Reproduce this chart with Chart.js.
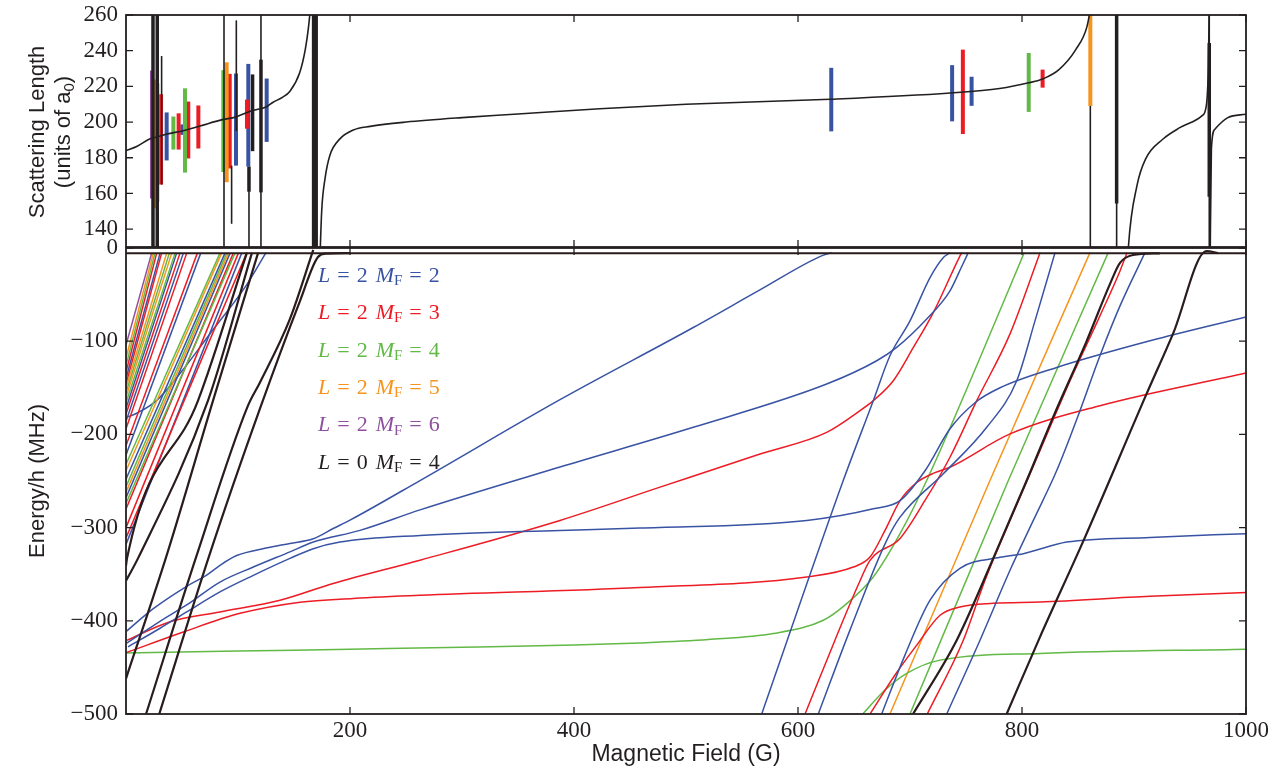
<!DOCTYPE html>
<html lang="en">
<head>
    <meta charset="UTF-8">
    <title>Scattering length and bound states</title>
    <style>
        body {
            margin: 0;
            background-color: #ffffff;
        }
        .panel {
            position: absolute;
            left: 0;
            top: 0;
        }
    </style>
</head>
<body>
    <canvas id="energyChart" class="panel" width="1279" height="772"></canvas>
    <canvas id="lengthChart" class="panel" width="1279" height="772"></canvas>

    <script src="https://cdn.jsdelivr.net/npm/chart.js"></script>

    <script>
        // ---- axis ticks ----
        const fieldTicks = [200, 400, 600, 800, 1000];
        const lengthTicks = [140, 160, 180, 200, 220, 240, 260];
        const energyTicks = [-500, -400, -300, -200, -100, 0];

        // ---- scattering length (a0) vs field (G), one array per branch between poles ----
        const lengthLowField = [[0, 184], [10, 186.5], [21, 190.5], [30, 192], [36.6, 193.3], [50, 195], [66, 197.8], [87, 201.5], [96, 202.5], [113, 206.5], [125, 208.5], [131, 211], [140, 214], [146, 217], [155, 227.5], [160, 240.5], [163, 253.5], [165, 266]];
        const lengthMidField = [[172.5, 110], [174.7, 149.8], [177.7, 168.3], [182, 181.3], [191, 190.6], [203, 195.6], [218, 197.6], [250, 200], [300, 202.5], [350, 204.5], [423, 207.5], [500, 210], [629, 212.8], [736, 216.3], [780, 218.8], [806, 222], [819, 224.3], [833, 229.4], [848, 240.6], [858, 253.5], [863, 270]];
        const lengthHighField = [[893.5, 110], [895, 130], [902.7, 164.5], [910.4, 179.4], [925.9, 190.5], [941.3, 197], [960.6, 203.5], [964.5, 209], [966.4, 231], [967.2, 266]];
        const lengthTopField = [[967.8, 110], [969.1, 185], [972.2, 196], [983.8, 202.5], [1000, 204.4]];

        // ---- resonance markers: [field (G), low a0, high a0] ----
        const markPurple = [[23.2, 157.2, 228.9]];
        const markOrange = [[25.3, 151.7, 223.9], [89.9, 166.3, 233.5], [861, 209, 260]];
        const markGreen = [[28, 155.4, 221.7], [42.3, 184.6, 203.1], [52.7, 171.7, 218.9], [86.9, 172, 229.1], [806, 205.7, 238.7]];
        const markRed = [[31.3, 165, 215.6], [47, 184.6, 204.9], [55.6, 179.6, 211.5], [64.6, 185.2, 209.3], [92.6, 174, 227], [108, 196.3, 212.6], [747.2, 193.3, 240.6], [818.4, 219.3, 229.4]];
        const markBlue = [[36.3, 178.5, 205.4], [50.3, 192.8, 198.7], [98.2, 175.6, 227.2], [109.2, 175, 232.6], [125.6, 188.9, 224.4], [629.7, 194.8, 230.4], [737.6, 200.4, 231.9], [755, 209.1, 225.4]];
        const markBlackWide = [[24.1, 130, 260], [27.9, 130, 260], [109.8, 161, 175], [113, 183.7, 226.7], [120.5, 160.6, 235], [167.5, 130, 260], [169.8, 130, 260], [884.5, 154.4, 260], [967.2, 158.2, 244.3]];
        const markBlackThin = [[31.8, 165, 237], [87.5, 130, 260], [94.3, 143, 175.6], [98.5, 195, 257], [109.8, 130, 175], [120.5, 130, 260], [861, 130, 209], [884.5, 130, 260], [967.2, 130, 260]];

        // ---- bound state energies (MHz) vs field (G) ----
        const thresholdEnergy = -5.5;

        // steep low-field levels: [energy at 0 G, field where the level meets threshold]
        const fanPurple = [[-104, 22.9]];
        const fanOrange = [[-118, 24.4], [-150, 36.3], [-160, 40.8], [-239, 85.4], [-262, 91.4]];
        const fanGreen = [[-126, 25.9], [-155, 38.7], [-166, 43.8], [-232, 83.9], [-256, 89.9], [-274, 97.3]];
        const fanRed = [[-133, 27.4], [-146, 31.8], [-178, 48.2], [-194, 54.2], [-212, 63.7], [-280, 95.8], [-300, 100.3], [-311, 107.7]];
        const fanBlue = [[-140, 30.4], [-172, 45.2], [-186, 51.2], [-222, 66.7], [-248, 88.4], [-268, 92.9], [-318, 103.3]];

        const blueBend = [[0, -182], [10, -177], [27, -164], [48, -135], [75, -92], [108, -39], [125, -5]];
        const blueDiagonal = [[0.6, -411], [24.4, -387], [54.2, -363], [72, -351], [83.9, -340.5], [98.8, -330], [125, -322], [146.4, -317], [167.2, -312], [185, -301], [200, -292], [262.5, -249.5], [387.5, -162.7], [506.5, -85.3], [566, -45], [620, -9], [630, -5]];
        const blueMiddle = [[0.6, -424], [36.3, -396], [54.2, -383], [83.9, -358.4], [113.7, -342.3], [146.4, -326], [167.2, -315.5], [208.9, -303], [262.5, -281], [387.5, -235], [506.5, -192.4], [625.6, -146], [670.3, -121], [688.1, -106.7], [714.9, -76.3], [735.7, -46], [746.4, -19.3], [752, -5]];
        const blueFlat = [[1.8, -428], [30.4, -408], [54.2, -390.5], [83.9, -369], [113.7, -351.2], [146.4, -333], [167.2, -322.6], [191.1, -315.5], [262.5, -308.4], [387.5, -303], [458.9, -300.5], [607.8, -292.3], [667.2, -279.8], [691.1, -271], [713.4, -239], [735.7, -194], [758, -166], [780.4, -150], [831, -128.2], [914.3, -99.6], [1000, -74]];
        const blueSteepA = [[567.6, -500], [640.4, -249.5], [667.2, -163.8], [682.1, -115.6], [700, -78.2], [717.9, -31.8], [730, -10], [735.7, -5]];
        const blueSteepB = [[618.1, -500], [646.4, -410], [679.2, -313.7], [691.1, -288.8], [729.7, -242.3], [768.5, -192.4], [795.3, -142.4], [811.6, -78.2], [829.5, -5]];
        const blueSteepC = [[674.7, -500], [695.5, -436.8], [717.9, -377.9], [744.6, -343.7], [780.4, -331.9], [801.2, -328], [839.9, -315.5], [914.3, -310.5], [1000, -306.5]];
        const blueSteepD = [[732.8, -500], [762.5, -420.8], [789.3, -345.8], [810.1, -292.3], [831, -238.8], [851.8, -174.5], [869.6, -115.6], [887.5, -62.1], [909.8, -5]];

        const redUpper = [[0.6, -421], [39.3, -401], [83.9, -390.5], [137.5, -378], [185, -360], [262.5, -335], [387.5, -292.3], [476.8, -256.6], [566.1, -221], [625.6, -197.8], [655.4, -174.5], [667.2, -163.8], [685.1, -142.4], [703, -106.7], [720.8, -69.3], [744, -10], [746.2, -5]];
        const redLower = [[0.6, -434], [51.2, -412], [101.8, -392], [155.4, -380], [203, -376], [262.5, -372.6], [458.9, -364.3], [607.8, -353], [649.4, -342.3], [664.3, -331.6], [677.7, -303], [691.1, -271], [706, -251.6], [722.3, -241], [735.7, -235.2], [789.3, -199.5], [869.6, -169.2], [1000, -134.2]];
        const redSteepA = [[606.3, -500], [633, -420.8], [653.6, -361.9], [664.3, -335.1], [691.1, -311.6], [713.4, -270.9], [735.7, -224.5], [759.6, -163.8], [789.3, -92.1], [816.1, -5]];
        const redSteepB = [[664.3, -500], [686.6, -458.2], [706, -426.1], [726.8, -394], [744.6, -385.1], [774.4, -381.2], [816.1, -379.8], [914.3, -373.7], [1000, -369.7]];
        const redSteepC = [[715.4, -500], [747.6, -420.8], [767, -356.5], [789.3, -292.3], [816.1, -217.3], [842.9, -142.4], [869.6, -72.8], [887.5, -24.6], [893.8, -5]];

        const greenFlat = [[0, -434.5], [100, -432.5], [200, -430.5], [300, -428.5], [400, -426], [458.9, -423.7], [520, -420], [577.9, -413.6], [622.6, -399.4], [643.5, -381.5], [667.2, -353], [691.1, -306.5], [714.9, -249.5], [760, -125], [802, -5]];
        const greenSteepA = [[657.8, -500], [677.7, -474.3], [697.1, -456.4], [726.8, -442.2], [816.1, -435], [1000, -430.4]];
        const greenSteepB = [[700, -500], [787.8, -249.5], [877, -5]];

        const orangeSteep = [[682.1, -500], [771.4, -249.5], [860.7, -5]];

        const blackLevels = [
            [[0, -341], [0.9, -333], [64.3, -163.8], [108, -5]],
            [[0, -357], [10.7, -333], [73.2, -163.8], [112.5, -5]],
            [[0, -462], [36.3, -329.8], [77.7, -163.8], [118, -5]],
            [[17.9, -500], [63.1, -329.8], [108.9, -169.2], [119.6, -144.2], [146.4, -76], [167.2, -2]],
            [[29.7, -500], [74.4, -329.8], [119.6, -172.4], [155.4, -56.7], [171.4, -9.6], [178.6, -6], [200, -5.5]],
            [[702.7, -500], [741.7, -420.8], [777.4, -324.4], [804.2, -249.5], [827.7, -181.7], [857.8, -99.6], [878.6, -38.5], [887.5, -16], [899.1, -7.5], [923, -5.7]],
            [[786.3, -500], [816.1, -417.2], [856.3, -310.2], [911.3, -156.3], [934.8, -92.1], [964.9, -3.2], [975, -5.5]]
        ];

        // ---- legend labels ----
        const legendL = [2, 2, 2, 2, 2, 0];
        const legendMF = [2, 3, 4, 5, 6, 4];

        // ---- styling ----
        const ink = '#231f20';
        const colors = {
            blue: '#3953a4',
            red: '#ed1c24',
            green: '#62b946',
            orange: '#f7941d',
            purple: '#8e4f9e',
            black: '#2a1c1d'
        };
        const legendColors = [colors.blue, colors.red, colors.green, colors.orange, colors.purple, ink];
        const serif = 'Liberation Serif';
        const sans = 'Liberation Sans';

        function curveSet(points, color, width, order) {
            return {
                data: points.map(([b, v]) => ({ x: b, y: v })),
                borderColor: color,
                borderWidth: width,
                pointRadius: 0,
                cubicInterpolationMode: 'monotone',
                clip: 0,
                order: order
            };
        }

        function straightSet(points, color, width, order) {
            return {
                data: points.map(([b, v]) => ({ x: b, y: v })),
                borderColor: color,
                borderWidth: width,
                borderCapStyle: 'butt',
                pointRadius: 0,
                tension: 0,
                clip: 0,
                order: order
            };
        }

        function markSets(marks, color, width, order) {
            return marks.map(([b, lo, hi]) => straightSet([[b, lo], [b, hi]], color, width, order));
        }

        function fanSets(fan, color) {
            return fan.map(([e0, bTop]) => straightSet([[0, e0], [bTop, thresholdEnergy]], color, 1.5, 2));
        }

        // keep tick labels from pushing the plot area around
        function fixWidth(scale) {
            scale.width = 126;
            scale.paddingTop = 0;
            scale.paddingBottom = 0;
        }

        function fixHeight(h) {
            return scale => {
                scale.height = h;
                scale.paddingLeft = 0;
                scale.paddingRight = 0;
            };
        }

        // frame with inward ticks on all four sides
        const framePlugin = {
            id: 'frame',
            afterDraw(chart) {
                const { ctx, chartArea: a, scales } = chart;
                ctx.save();
                ctx.strokeStyle = ink;
                ctx.lineWidth = 1.3;
                ctx.beginPath();
                scales.x.ticks.forEach(t => {
                    const px = scales.x.getPixelForValue(t.value);
                    ctx.moveTo(px, a.top);
                    ctx.lineTo(px, a.top + 7);
                    ctx.moveTo(px, a.bottom);
                    ctx.lineTo(px, a.bottom - 7);
                });
                scales.y.ticks.forEach(t => {
                    const py = scales.y.getPixelForValue(t.value);
                    ctx.moveTo(a.left, py);
                    ctx.lineTo(a.left + 7, py);
                    ctx.moveTo(a.right, py);
                    ctx.lineTo(a.right - 7, py);
                });
                ctx.stroke();
                ctx.lineWidth = 1.8;
                ctx.strokeRect(a.left, a.top, a.right - a.left, a.bottom - a.top);
                ctx.restore();
            }
        };

        function rotatedText(ctx, parts, cx, cy) {
            // parts: [text, font, offset below the baseline]
            ctx.save();
            ctx.translate(cx, cy);
            ctx.rotate(-Math.PI / 2);
            let total = 0;
            parts.forEach(p => { ctx.font = p[1]; total += ctx.measureText(p[0]).width; });
            let x = -total / 2;
            parts.forEach(p => {
                ctx.font = p[1];
                ctx.fillText(p[0], x, p[2]);
                x += ctx.measureText(p[0]).width;
            });
            ctx.restore();
        }

        const lengthTitlePlugin = {
            id: 'lengthTitle',
            afterDraw(chart) {
                const ctx = chart.ctx;
                ctx.save();
                ctx.fillStyle = ink;
                ctx.textBaseline = 'middle';
                rotatedText(ctx, [['Scattering Length', `22px ${sans}`, 0]], 38, 132);
                rotatedText(ctx, [
                    ['(units of a', `22px ${sans}`, 0],
                    ['0', `15px ${sans}`, 6],
                    [')', `22px ${sans}`, 0]
                ], 64, 132);
                ctx.restore();
            }
        };

        const energyTitlePlugin = {
            id: 'energyTitle',
            afterDraw(chart) {
                const ctx = chart.ctx;
                ctx.save();
                ctx.fillStyle = ink;
                ctx.textBaseline = 'middle';
                rotatedText(ctx, [['Energy/h (MHz)', `22px ${sans}`, 0]], 38, 481);
                ctx.font = `23px ${sans}`;
                ctx.textAlign = 'center';
                ctx.fillText('Magnetic Field (G)', 686, 755);

                // coloured legend entries
                ctx.textAlign = 'left';
                legendL.forEach((l, i) => {
                    const y = 276 + i * 37.4;
                    let x = 318;
                    ctx.fillStyle = legendColors[i];
                    const put = (text, font, dy, gap) => {
                        ctx.font = font;
                        ctx.fillText(text, x, y + dy);
                        x += ctx.measureText(text).width + gap;
                    };
                    put('L', `italic 22px ${serif}`, 0, 7);
                    put('=', `22px ${serif}`, 0, 7);
                    put(String(l), `22px ${serif}`, 0, 8);
                    put('M', `italic 22px ${serif}`, 0, 0);
                    put('F', `15px ${serif}`, 5, 7);
                    put('=', `22px ${serif}`, 0, 7);
                    put(String(legendMF[i]), `22px ${serif}`, 0, 0);
                });
                ctx.restore();
            }
        };

        const tickFont = { family: serif, size: 23 };

        // ---- lower panel: energies ----
        const energySets = [
            straightSet([[0, thresholdEnergy], [1000, thresholdEnergy]], colors.black, 2, 0),
            ...fanSets(fanPurple, colors.purple),
            ...fanSets(fanOrange, colors.orange),
            ...fanSets(fanGreen, colors.green),
            ...fanSets(fanRed, colors.red),
            ...fanSets(fanBlue, colors.blue),
            curveSet(blueBend, colors.blue, 1.5, 2),
            curveSet(blueDiagonal, colors.blue, 1.5, 2),
            curveSet(blueMiddle, colors.blue, 1.5, 2),
            curveSet(blueFlat, colors.blue, 1.5, 2),
            curveSet(blueSteepA, colors.blue, 1.5, 2),
            curveSet(blueSteepB, colors.blue, 1.5, 2),
            curveSet(blueSteepC, colors.blue, 1.5, 2),
            curveSet(blueSteepD, colors.blue, 1.5, 2),
            curveSet(redUpper, colors.red, 1.5, 2),
            curveSet(redLower, colors.red, 1.5, 2),
            curveSet(redSteepA, colors.red, 1.5, 2),
            curveSet(redSteepB, colors.red, 1.5, 2),
            curveSet(redSteepC, colors.red, 1.5, 2),
            curveSet(greenFlat, colors.green, 1.5, 2),
            curveSet(greenSteepA, colors.green, 1.5, 2),
            curveSet(greenSteepB, colors.green, 1.5, 2),
            curveSet(orangeSteep, colors.orange, 1.5, 2),
            ...blackLevels.map(level => curveSet(level, colors.black, 2.2, 1))
        ];

        new Chart(document.getElementById('energyChart').getContext('2d'), {
            type: 'line',
            data: { datasets: energySets },
            options: {
                responsive: false,
                animation: false,
                devicePixelRatio: 1,
                layout: { padding: { left: 0, right: 33, top: 248, bottom: 0 } },
                plugins: { legend: { display: false }, tooltip: { enabled: false } },
                scales: {
                    x: {
                        type: 'linear',
                        min: 0,
                        max: 1000,
                        afterBuildTicks: scale => { scale.ticks = fieldTicks.map(v => ({ value: v })); },
                        afterFit: fixHeight(58),
                        grid: { display: false, drawTicks: false },
                        border: { display: false },
                        ticks: { font: tickFont, color: ink, padding: 3, maxRotation: 0, autoSkip: false, callback: v => String(v) }
                    },
                    y: {
                        type: 'linear',
                        min: -500,
                        max: 0,
                        afterBuildTicks: scale => { scale.ticks = energyTicks.map(v => ({ value: v })); },
                        afterFit: fixWidth,
                        grid: { display: false, drawTicks: false },
                        border: { display: false },
                        ticks: {
                            font: tickFont,
                            color: ink,
                            padding: 8,
                            callback: v => (v < 0 ? '\u2212' + Math.abs(v) : String(v))
                        }
                    }
                }
            },
            plugins: [framePlugin, energyTitlePlugin]
        });

        // ---- upper panel: scattering length ----
        const lengthSets = [
            curveSet(lengthLowField, ink, 1.6, 0),
            curveSet(lengthMidField, ink, 1.6, 0),
            curveSet(lengthHighField, ink, 1.6, 0),
            curveSet(lengthTopField, ink, 1.6, 0),
            ...markSets(markBlackWide, ink, 3.5, 1),
            ...markSets(markBlackThin, ink, 1.6, 1),
            ...markSets(markPurple, colors.purple, 4, 2),
            ...markSets(markOrange, colors.orange, 4, 2),
            ...markSets(markGreen, colors.green, 4, 2),
            ...markSets(markRed, colors.red, 4, 2),
            ...markSets(markBlue, colors.blue, 4, 2)
        ];

        new Chart(document.getElementById('lengthChart').getContext('2d'), {
            type: 'line',
            data: { datasets: lengthSets },
            options: {
                responsive: false,
                animation: false,
                devicePixelRatio: 1,
                layout: { padding: { left: 0, right: 33, top: 15, bottom: 525 } },
                plugins: { legend: { display: false }, tooltip: { enabled: false } },
                scales: {
                    x: {
                        type: 'linear',
                        min: 0,
                        max: 1000,
                        afterBuildTicks: scale => { scale.ticks = fieldTicks.map(v => ({ value: v })); },
                        afterFit: fixHeight(0),
                        grid: { display: false, drawTicks: false },
                        border: { display: false },
                        ticks: { display: false }
                    },
                    y: {
                        type: 'linear',
                        min: 130,
                        max: 260,
                        afterBuildTicks: scale => { scale.ticks = lengthTicks.map(v => ({ value: v })); },
                        afterFit: fixWidth,
                        grid: { display: false, drawTicks: false },
                        border: { display: false },
                        ticks: { font: tickFont, color: ink, padding: 8 }
                    }
                }
            },
            plugins: [framePlugin, lengthTitlePlugin]
        });
    </script>
</body>
</html>
